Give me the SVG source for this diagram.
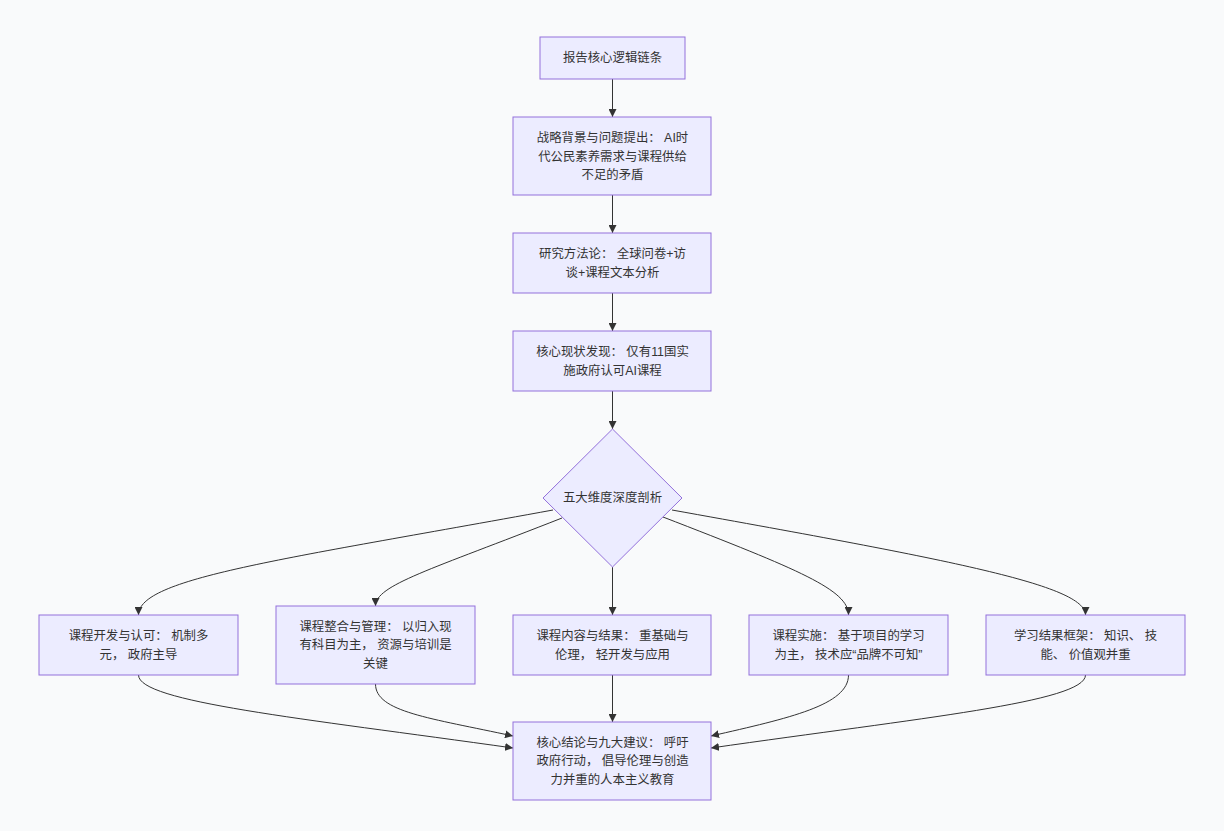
<svg xmlns="http://www.w3.org/2000/svg" width="1224" height="831" viewBox="0 0 1224 831">
<style>
.bg{fill:#f9fafb}
.node rect,.node polygon{fill:#ececff;stroke:#9370db;stroke-width:1}
.node text{font-family:"Liberation Sans","Noto Sans CJK SC",sans-serif;font-size:12.4px;fill:#333;text-anchor:middle;dominant-baseline:central}
.edges path{fill:none;stroke:#333;stroke-width:1}
</style>
<defs>
<marker id="arr" viewBox="0 0 10 10" refX="10" refY="5" markerWidth="8" markerHeight="8" markerUnits="userSpaceOnUse" orient="auto">
<path d="M0,0 L10,5 L0,10 z" fill="#333"/>
</marker>
</defs>
<rect class="bg" x="0" y="0" width="1224" height="831"/>
<g class="edges">
<path d="M612.5,79 L612.5,117" marker-end="url(#arr)"/>
<path d="M612.5,195 L612.5,233" marker-end="url(#arr)"/>
<path d="M612.5,293 L612.5,331" marker-end="url(#arr)"/>
<path d="M612.5,391 L612.5,429" marker-end="url(#arr)"/>
<path d="M553,510 C280,560 138.5,578 138.5,615" marker-end="url(#arr)"/>
<path d="M562,518 C430,570 375.5,585 375.5,606" marker-end="url(#arr)"/>
<path d="M612.5,567 L612.5,615" marker-end="url(#arr)"/>
<path d="M663,517 C800,570 848.5,590 848.5,615" marker-end="url(#arr)"/>
<path d="M672,510 C950,560 1085.5,585 1085.5,615" marker-end="url(#arr)"/>
<path d="M138.5,675 C138.5,702 300,718 513,748" marker-end="url(#arr)"/>
<path d="M375.5,684 C375.5,712 430,718 513,736" marker-end="url(#arr)"/>
<path d="M612.5,675 L612.5,722" marker-end="url(#arr)"/>
<path d="M848.5,675 C848.5,705 790,718 711,736" marker-end="url(#arr)"/>
<path d="M1085.5,675 C1085.5,702 920,718 711,748" marker-end="url(#arr)"/>
</g>
<g class="node" id="n1"><rect x="540" y="37" width="145" height="42"/><text x="612.5" y="58">报告核心逻辑链条</text></g>
<g class="node" id="n2"><rect x="513" y="117" width="198" height="78"/><text x="612.5" y="138"><tspan x="612.5" y="138">战略背景与问题提出： AI时</tspan><tspan x="612.5" y="157">代公民素养需求与课程供给</tspan><tspan x="612.5" y="175">不足的矛盾</tspan></text></g>
<g class="node" id="n3"><rect x="513" y="233" width="198" height="60"/><text><tspan x="612.5" y="254">研究方法论： 全球问卷+访</tspan><tspan x="612.5" y="273">谈+课程文本分析</tspan></text></g>
<g class="node" id="n4"><rect x="513" y="331" width="198" height="60"/><text><tspan x="612.5" y="352">核心现状发现： 仅有11国实</tspan><tspan x="612.5" y="371">施政府认可AI课程</tspan></text></g>
<g class="node" id="n5"><polygon points="612.5,429 682,498 612.5,567 543,498"/><text x="612.5" y="498">五大维度深度剖析</text></g>
<g class="node" id="nA"><rect x="39" y="615" width="199" height="60"/><text><tspan x="138.5" y="636">课程开发与认可： 机制多</tspan><tspan x="138.5" y="655">元， 政府主导</tspan></text></g>
<g class="node" id="nB"><rect x="276" y="606" width="199" height="78"/><text><tspan x="375.5" y="627">课程整合与管理： 以归入现</tspan><tspan x="375.5" y="645">有科目为主， 资源与培训是</tspan><tspan x="375.5" y="664">关键</tspan></text></g>
<g class="node" id="nC"><rect x="513" y="615" width="198" height="60"/><text><tspan x="612.5" y="636">课程内容与结果： 重基础与</tspan><tspan x="612.5" y="655">伦理， 轻开发与应用</tspan></text></g>
<g class="node" id="nD"><rect x="749" y="615" width="199" height="60"/><text><tspan x="848.5" y="636">课程实施： 基于项目的学习</tspan><tspan x="848.5" y="655">为主， 技术应“品牌不可知”</tspan></text></g>
<g class="node" id="nE"><rect x="986" y="615" width="199" height="60"/><text><tspan x="1085.5" y="636">学习结果框架： 知识、 技</tspan><tspan x="1085.5" y="655">能、 价值观并重</tspan></text></g>
<g class="node" id="n6"><rect x="513" y="722" width="198" height="78"/><text><tspan x="612.5" y="743">核心结论与九大建议： 呼吁</tspan><tspan x="612.5" y="761">政府行动， 倡导伦理与创造</tspan><tspan x="612.5" y="780">力并重的人本主义教育</tspan></text></g>
</svg>
